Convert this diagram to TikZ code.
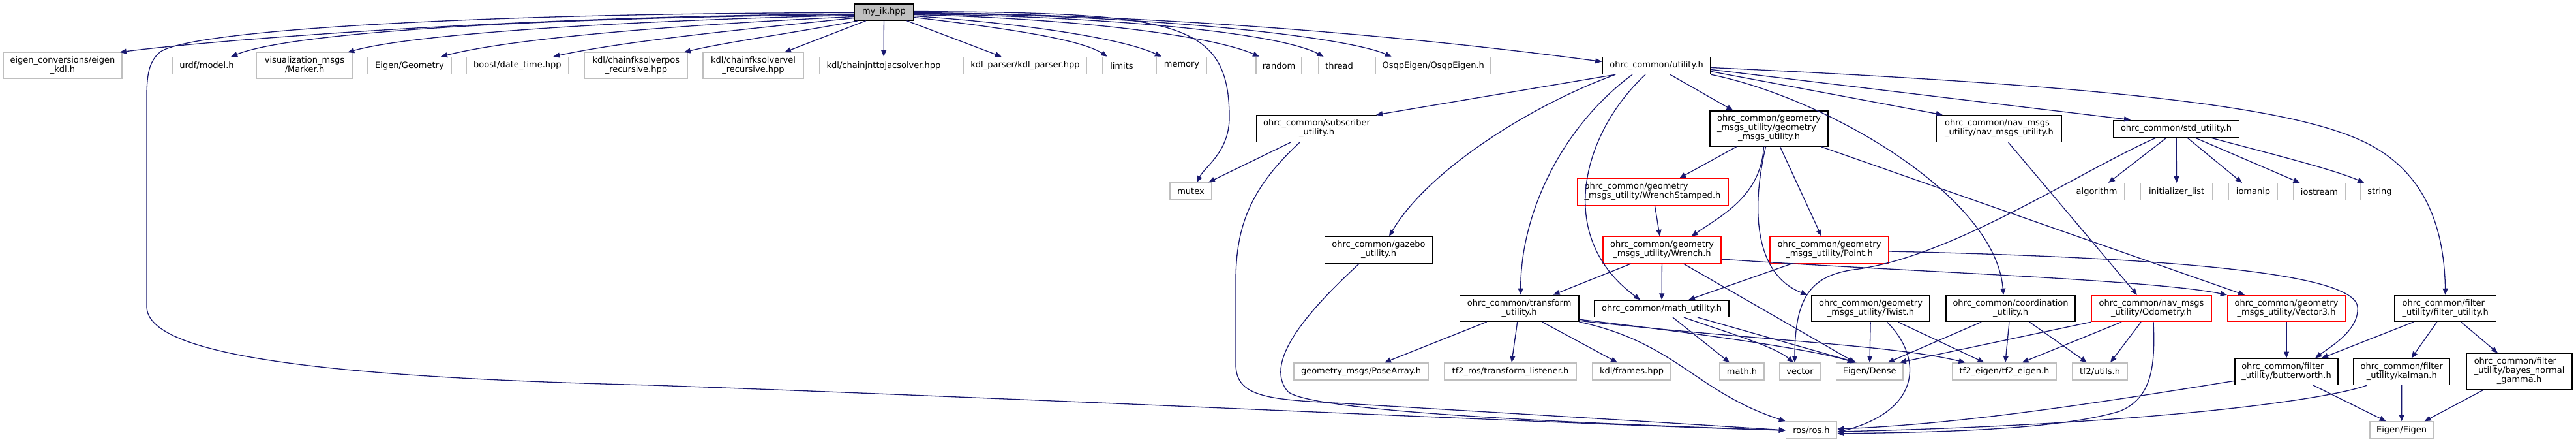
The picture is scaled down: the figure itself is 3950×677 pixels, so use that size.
\documentclass[tikz,border=0pt]{standalone}
\usepackage{fontspec}
\setmainfont{DejaVu Sans}
\usetikzlibrary{arrows.meta}
\definecolor{edgeblue}{RGB}{25,25,112}
\definecolor{extgray}{RGB}{191,191,191}
\definecolor{rootfill}{RGB}{191,191,191}
\newcommand{\Lii}[2]{\begin{tabular}{@{}l@{}}#1\\\multicolumn{1}{@{}c@{}}{#2}\end{tabular}}
\newcommand{\Liii}[3]{\begin{tabular}{@{}l@{}}#1\\#2\\\multicolumn{1}{@{}c@{}}{#3}\end{tabular}}
\tikzset{
  box/.style={rectangle, inner sep=0pt, font=\fontsize{13}{14}\selectfont, line width=1.5pt, fill=white},
  ext/.style={box, draw=extgray},
  int/.style={box, draw=black},
  trunc/.style={box, draw=red},
  root/.style={box, draw=black, fill=rootfill},
  sz/.style 2 args={minimum width=#1pt, minimum height=#2pt},
  dep/.style={draw=edgeblue, line width=1.3pt, -{Triangle[length=10pt,width=8pt]}}
}
\begin{document}
\begin{tikzpicture}[x=1pt,y=-1pt]
\fill[white] (0,0) rectangle (3950,677);
\useasboundingbox (0,0) rectangle (3950,677);

% row 0
\node[root, sz={90}{25}] (my) at (1355.5,18.5) {my\_ik.hpp};
% row 1
\node[ext, sz={182}{40}] (ec) at (96,100.7) {\Lii{eigen\_conversions/eigen}{\_kdl.h}};
\node[ext, sz={105}{26}] (urdf) at (317,100.5) {urdf/model.h};
\node[ext, sz={147}{40}] (vis) at (467,100.7) {\Lii{visualization\_msgs}{/Marker.h}};
\node[ext, sz={128}{26}] (egeo) at (628,100.5) {Eigen/Geometry};
\node[ext, sz={156}{26}] (boost) at (793.4,100.5) {boost/date\_time.hpp};
\node[ext, sz={157.5}{40}] (fkpos) at (975.4,100.7) {\Lii{kdl/chainfksolverpos}{\_recursive.hpp}};
\node[ext, sz={154}{40}] (fkvel) at (1155,100.7) {\Lii{kdl/chainfksolvervel}{\_recursive.hpp}};
\node[ext, sz={197}{26}] (jac) at (1355,100.5) {kdl/chainjnttojacsolver.hpp};
\node[ext, sz={189}{26}] (kdlp) at (1572,100.5) {kdl\_parser/kdl\_parser.hpp};
\node[ext, sz={58.7}{26}] (limits) at (1720,100.5) {limits};
\node[ext, sz={77}{26}] (memory) at (1812,100.5) {memory};
\node[ext, sz={70}{26}] (random) at (1961,100.5) {random};
\node[ext, sz={64}{26}] (thread) at (2053.6,100.5) {thread};
\node[ext, sz={176}{26}] (osqp) at (2197.7,100.5) {OsqpEigen/OsqpEigen.h};
\node[int, sz={166}{26}] (util) at (2540,100.5) {ohrc\_common/utility.h};
% row 2
\node[int, sz={184.5}{40.6}] (sub) at (2019,197) {\Lii{ohrc\_common/subscriber}{\_utility.h}};
\node[int, sz={181}{54}] (geo) at (2712.5,197) {\Liii{ohrc\_common/geometry}{\_msgs\_utility/geometry}{\_msgs\_utility.h}};
\node[int, sz={192}{40.6}] (nav) at (3065.5,197) {\Lii{ohrc\_common/nav\_msgs}{\_utility/nav\_msgs\_utility.h}};
\node[int, sz={193}{26}] (std) at (3337,197.3) {ohrc\_common/std\_utility.h};
% row 3
\node[ext, sz={64}{25.3}] (mutex) at (1826,292.7) {mutex};
\node[trunc, sz={231.5}{40.6}] (ws) at (2534,294) {\Lii{ohrc\_common/geometry}{\_msgs\_utility/WrenchStamped.h}};
\node[ext, sz={85}{26}] (algorithm) at (3215,293.7) {algorithm};
\node[ext, sz={110}{26}] (initl) at (3337.6,293.7) {initializer\_list};
\node[ext, sz={75}{26}] (iomanip) at (3455,293.7) {iomanip};
\node[ext, sz={80}{26}] (iostream) at (3556.5,293.7) {iostream};
\node[ext, sz={58.6}{26}] (string) at (3649,293.7) {string};
% row 4
\node[int, sz={165}{40.6}] (gazebo) at (2114,383) {\Lii{ohrc\_common/gazebo}{\_utility.h}};
\node[trunc, sz={181}{40.6}] (wrench) at (2548.5,383) {\Lii{ohrc\_common/geometry}{\_msgs\_utility/Wrench.h}};
\node[trunc, sz={181.7}{40.6}] (point) at (2805,383) {\Lii{ohrc\_common/geometry}{\_msgs\_utility/Point.h}};
% row 5
\node[int, sz={182.4}{40}] (transform) at (2329.6,472.3) {\Lii{ohrc\_common/transform}{\_utility.h}};
\node[int, sz={205.6}{25.3}] (math) at (2548,472.7) {ohrc\_common/math\_utility.h};
\node[int, sz={181}{40}] (twist) at (2868.5,472.5) {\Lii{ohrc\_common/geometry}{\_msgs\_utility/Twist.h}};
\node[int, sz={198}{40}] (coord) at (3083,472.5) {\Lii{ohrc\_common/coordination}{\_utility.h}};
\node[trunc, sz={184}{40}] (odom) at (3299,472.5) {\Lii{ohrc\_common/nav\_msgs}{\_utility/Odometry.h}};
\node[trunc, sz={181}{40}] (vec3) at (3506,472.5) {\Lii{ohrc\_common/geometry}{\_msgs\_utility/Vector3.h}};
\node[int, sz={155.5}{40}] (filter) at (3749.7,472.5) {\Lii{ohrc\_common/filter}{\_utility/filter\_utility.h}};
% row 6
\node[ext, sz={206}{26}] (pose) at (2087,569) {geometry\_msgs/PoseArray.h};
\node[ext, sz={202}{26}] (tfl) at (2316,569) {tf2\_ros/transform\_listener.h};
\node[ext, sz={120}{26}] (frames) at (2502,569) {kdl/frames.hpp};
\node[ext, sz={68}{26}] (mathh) at (2671,569) {math.h};
\node[ext, sz={62.4}{26}] (vector) at (2760,569) {vector};
\node[ext, sz={102.7}{26}] (edense) at (2866.7,569) {Eigen/Dense};
\node[ext, sz={160}{26}] (tf2e) at (3073.5,569) {tf2\_eigen/tf2\_eigen.h};
\node[ext, sz={83.6}{26}] (tf2u) at (3220,569) {tf2/utils.h};
\node[int, sz={157.7}{40}] (butter) at (3506,569.3) {\Lii{ohrc\_common/filter}{\_utility/butterworth.h}};
\node[int, sz={147.4}{40}] (kalman) at (3682.7,569.3) {\Lii{ohrc\_common/filter}{\_utility/kalman.h}};
\node[int, sz={162}{55}] (bayes) at (3863,569) {\Liii{ohrc\_common/filter}{\_utility/bayes\_normal}{\_gamma.h}};
% row 7
\node[ext, sz={78}{26}] (ros) at (2777.5,659) {ros/ros.h};
\node[ext, sz={97.5}{26}] (eeig) at (3682.6,659) {Eigen/Eigen};

% ---- edges from my_ik
\draw[dep] ([yshift=-3pt]my.west) .. controls (800,24) and (320,62) .. ([xshift=-4pt]ec.north east);
\draw[dep] ([yshift=-1pt]my.west) .. controls (750,20) and (290,45) .. (245,80) .. controls (228,95) and (225,115) .. (225,150) -- (225,470) .. controls (226,545) and (500,578) .. (1000,590) .. controls (1700,615) and (2400,650) .. (ros.west);
\draw[dep] ([yshift=-4pt]my.west) .. controls (900,26) and (460,45) .. ([xshift=37pt]urdf.north);
\draw[dep] ([yshift=-5pt]my.west) .. controls (1000,30) and (640,50) .. ([xshift=-8pt]vis.north east);
\draw[dep] ([yshift=-7pt]my.west) .. controls (1100,35) and (800,55) .. ([xshift=48pt]egeo.north);
\draw[dep] ([yshift=-9pt]my.west) .. controls (1170,42) and (960,62) .. ([xshift=55pt]boost.north);
\draw[dep] ([xshift=6pt]my.south west) .. controls (1220,50) and (1110,65) .. ([xshift=-6pt]fkpos.north east);
\draw[dep] ([xshift=18pt]my.south west) -- ([xshift=48pt]fkvel.north);
\draw[dep] (my) -- (jac);
\draw[dep] (my) -- (kdlp);
\draw[dep] ([yshift=-8pt]my.east) .. controls (1560,45) and (1660,62) .. ([xshift=-22pt]limits.north);
\draw[dep] ([yshift=-6pt]my.east) .. controls (1560,35) and (1720,58) .. ([xshift=-31pt]memory.north);
\draw[dep] ([yshift=-4pt]my.east) .. controls (1650,28) and (1860,55) .. ([xshift=-30pt]random.north);
\draw[dep] ([yshift=-3pt]my.east) .. controls (1700,25) and (1960,50) .. ([xshift=-24pt]thread.north);
\draw[dep] ([yshift=-2pt]my.east) .. controls (1750,22) and (2060,55) .. ([xshift=-64pt]osqp.north);
\draw[dep] ([yshift=-1pt]my.east) .. controls (1800,22) and (2200,60) .. ([yshift=6pt]util.west);
\draw[dep] ([yshift=1pt]my.east) .. controls (1800,20) and (1885,30) .. (1885,180) .. controls (1885,232) and (1848,255) .. ([xshift=9pt]mutex.north);

% ---- edges from utility.h
\draw[dep] ([xshift=-63pt]util.south) -- ([xshift=-2pt]sub.north east);
\draw[dep] ([xshift=-63pt]util.south) .. controls (2350,160) and (2190,260) .. ([xshift=16pt]gazebo.north);
\draw[dep] ([xshift=-37pt]util.south) .. controls (2400,190) and (2332,320) .. ([xshift=2pt]transform.north);
\draw[dep] ([xshift=-17pt]util.south) .. controls (2430,200) and (2380,360) .. ([xshift=-33pt]math.north);
\draw[dep] ([xshift=21pt]util.south) -- ([xshift=-55pt]geo.north);
\draw[dep] (util.south east) .. controls (2800,150) and (3060,300) .. ([xshift=-11pt]coord.north);
\draw[dep] ([yshift=-9pt]util.east) -- ([xshift=10pt]nav.north west);
\draw[dep] ([yshift=-6pt]util.east) -- ([xshift=-70pt]std.north);
\draw[dep] ([yshift=-3pt]util.east) .. controls (3200,130) and (3500,160) .. (3620,215) .. controls (3720,260) and (3748,350) .. (filter.north);

% ---- subscriber, gazebo
\draw[dep] ([xshift=-40pt]sub.south) -- ([xshift=27pt]mutex.north);
\draw[dep] ([xshift=-26pt]sub.south) .. controls (1915,290) and (1895,350) .. (1895,430) -- (1895,560) .. controls (1896,600) and (1930,610) .. (2010,615) .. controls (2300,632) and (2600,650) .. (ros.west);
\draw[dep] ([xshift=-30pt]gazebo.south) .. controls (1990,490) and (1940,560) .. (1975,600) .. controls (2010,630) and (2400,648) .. (ros.west);

% ---- geometry_msgs_utility
\draw[dep] ([xshift=-50pt]geo.south) -- ([xshift=41pt]ws.north);
\draw[dep] ([xshift=-8pt]geo.south) .. controls (2700,300) and (2640,330) .. ([xshift=45pt]wrench.north);
\draw[dep] ([xshift=-5pt]geo.south) .. controls (2685,320) and (2690,420) .. ([xshift=-6pt]twist.north west);
\draw[dep] ([xshift=17pt]geo.south) -- ([xshift=-12pt]point.north);
\draw[dep] ([xshift=80pt]geo.south) -- ([xshift=-64pt]vec3.north);
\draw[dep] (ws) -- (wrench);

% ---- Wrench, Point
\draw[dep] ([xshift=-48pt]wrench.south) -- ([xshift=52pt]transform.north);
\draw[dep] (wrench) -- (math);
\draw[dep] ([xshift=33pt]wrench.south) -- ([xshift=-22pt]edense.north);
\draw[dep] ([yshift=-14pt]wrench.east) .. controls (2900,415) and (3300,428) .. (vec3.north west);
\draw[dep] ([xshift=-58pt]point.south) -- ([xshift=41pt]math.north);
\draw[dep] ([yshift=-2pt]point.east) .. controls (3350,395) and (3610,420) .. (3615,470) .. controls (3618,505) and (3575,530) .. ([xshift=44pt]butter.north);

% ---- transform, math
\draw[dep] ([xshift=-50pt]transform.south) -- ([xshift=36pt]pose.north);
\draw[dep] (transform) -- (tfl);
\draw[dep] ([xshift=35pt]transform.south) -- ([xshift=-22pt]frames.north);
\draw[dep] ([yshift=-17pt]transform.east) .. controls (2600,510) and (2780,535) .. ([xshift=-24pt]edense.north);
\draw[dep] ([yshift=-19pt]transform.east) .. controls (2700,522) and (2900,528) .. ([xshift=-60pt]tf2e.north);
\draw[dep] (transform.south east) .. controls (2570,525) and (2600,600) .. (ros.north west);
\draw[dep] ([xshift=17pt]math.south) -- ([xshift=-19pt]mathh.north);
\draw[dep] ([xshift=34pt]math.south) .. controls (2650,510) and (2720,530) .. ([xshift=-10pt]vector.north);
\draw[dep] ([xshift=55pt]math.south) -- ([xshift=-20pt]edense.north);

% ---- std_utility, nav
\draw[dep] ([xshift=-15pt]std.south) -- ([xshift=18pt]algorithm.north);
\draw[dep] (std) -- (initl);
\draw[dep] ([xshift=17pt]std.south) -- ([xshift=-17pt]iomanip.north);
\draw[dep] ([xshift=29pt]std.south) -- ([xshift=-30pt]iostream.north);
\draw[dep] ([xshift=53pt]std.south) .. controls (3480,235) and (3580,260) .. ([xshift=-24pt]string.north);
\draw[dep] ([xshift=-31pt]std.south) .. controls (3190,262) and (3000,390) .. (2850,412) .. controls (2780,420) and (2752,450) .. ([xshift=-8pt]vector.north);
\draw[dep] ([xshift=14pt]nav.south) -- ([xshift=-22pt]odom.north);

% ---- Twist, coordination, Odometry
\draw[dep] (twist) -- (edense);
\draw[dep] ([xshift=42pt]twist.south) -- ([xshift=-31pt]tf2e.north);
\draw[dep] ([xshift=25pt]twist.south) .. controls (2950,550) and (2945,630) .. ([yshift=-3pt]ros.east);
\draw[dep] ([xshift=-45pt]coord.south) -- ([xshift=28pt]edense.north);
\draw[dep] (coord) -- (tf2e);
\draw[dep] ([xshift=29pt]coord.south) -- ([xshift=-20pt]tf2u.north);
\draw[dep] (odom.south west) -- ([xshift=-6pt]edense.north east);
\draw[dep] ([xshift=-46pt]odom.south) -- ([xshift=27pt]tf2e.north);
\draw[dep] ([xshift=-16pt]odom.south) -- ([xshift=16pt]tf2u.north);
\draw[dep] ([xshift=3pt]odom.south) .. controls (3305,560) and (3300,610) .. (3250,630) .. controls (3150,660) and (2950,662) .. ([yshift=-5pt]ros.east);

% ---- filter family
\draw[dep] (vec3) -- (butter);
\draw[dep] ([xshift=-49pt]filter.south) -- ([xshift=54pt]butter.north);
\draw[dep] ([xshift=-13pt]filter.south) -- ([xshift=15pt]kalman.north);
\draw[dep] ([xshift=24pt]filter.south) -- ([xshift=-33pt]bayes.north);
\draw[dep] ([yshift=-14pt]butter.west) .. controls (3200,620) and (3000,650) .. ([yshift=2pt]ros.east);
\draw[dep] ([xshift=41pt]butter.south) -- ([xshift=-24pt]eeig.north);
\draw[dep] ([xshift=-53pt]kalman.south) .. controls (3570,612) and (3300,650) .. ([yshift=-2pt]ros.east);
\draw[dep] (kalman) -- (eeig);
\draw[dep] ([xshift=-55pt]bayes.south) -- ([xshift=35pt]eeig.north);
\end{tikzpicture}
\end{document}
